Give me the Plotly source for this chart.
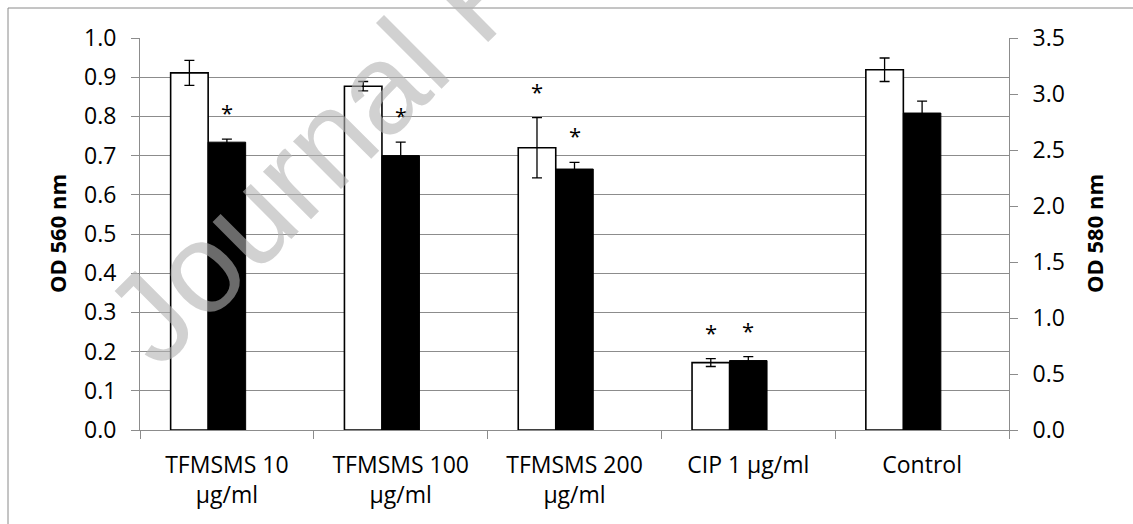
import plotly.graph_objects as go

# Biofilm assay: OD 560 nm (left axis, white bars) and OD 580 nm (right axis, black bars)
categories = ["TFMSMS 10<br>µg/ml", "TFMSMS 100<br>µg/ml", "TFMSMS 200<br>µg/ml",
              "CIP 1 µg/ml", "Control"]
od560 = [0.911, 0.877, 0.720, 0.172, 0.919]
od560_err = [0.032, 0.012, 0.077, 0.010, 0.030]
od580 = [2.57, 2.45, 2.33, 0.62, 2.83]
od580_err = [0.027, 0.12, 0.06, 0.035, 0.107]
sig560 = [False, False, True, True, False]
sig580 = [True, True, True, True, False]
y_ticks_left = [round(i * 0.1, 1) for i in range(11)]
y_ticks_right = [round(i * 0.5, 1) for i in range(8)]

W, H = 1133, 524
L, R, T, B = 140, 1009, 38, 430   # plot-area edges in pixels
GRID = "#8c8c8c"
TICK_FONT = dict(family="Open Sans", size=23, color="#000000")

BAR_W = 0.2158

def px_x(p):
    return (p - L) / (R - L)

def px_y(p):
    return (B - p) / (B - T)

fig = go.Figure()
fig.add_trace(go.Bar(
    x=categories, y=od560, name="OD 560 nm",
    width=BAR_W, offset=-1.5 * BAR_W,
    marker=dict(color="#ffffff", line=dict(color="#000000", width=1.6)),
    error_y=dict(type="data", array=od560_err, color="#000000", thickness=1.3, width=5),
    yaxis="y",
))
fig.add_trace(go.Bar(
    x=categories, y=od580, name="OD 580 nm",
    width=BAR_W, offset=-0.5 * BAR_W,
    marker=dict(color="#000000", line=dict(color="#000000", width=1)),
    error_y=dict(type="data", array=od580_err, color="#000000", thickness=1.3, width=5),
    yaxis="y2",
))

annotations = []
# significance marks above the error bars
for c, v, e, s in zip(categories, od560, od560_err, sig560):
    if s:
        annotations.append(dict(x=c, y=v + e, xref="x", yref="y", text="*",
                                showarrow=False, xshift=-37.5, yanchor="bottom",
                                yshift=10, font=dict(family="Open Sans", size=22, color="#000")))
for c, v, e, s in zip(categories, od580, od580_err, sig580):
    if s:
        annotations.append(dict(x=c, y=v + e, xref="x", yref="y2", text="*",
                                showarrow=False, xshift=0, yanchor="bottom",
                                yshift=10, font=dict(family="Open Sans", size=22, color="#000")))

# axis titles
annotations.append(dict(x=px_x(57), y=0.5, xref="paper", yref="paper", text="<b>OD 560 nm</b>",
                        textangle=-90, showarrow=False, xanchor="center", yanchor="middle",
                        font=dict(family="Open Sans", size=22, color="#000")))
annotations.append(dict(x=px_x(1094), y=0.5, xref="paper", yref="paper", text="<b>OD 580 nm</b>",
                        textangle=-90, showarrow=False, xanchor="center", yanchor="middle",
                        font=dict(family="Open Sans", size=22, color="#000")))

# watermark
annotations.append(dict(x=px_x(477), y=px_y(-9), xref="paper", yref="paper",
                        text="Journal Pre-proof", textangle=-45, showarrow=False,
                        xanchor="center", yanchor="middle",
                        font=dict(family="Liberation Sans", size=128,
                                  color="rgba(178,178,178,0.6)")))

fig.update_layout(
    width=W, height=H,
    margin=dict(l=L, r=W - R, t=T, b=H - B),
    paper_bgcolor="#ffffff", plot_bgcolor="#ffffff",
    showlegend=False,
    barmode="overlay",
    annotations=annotations,
    shapes=[dict(type="rect", xref="paper", yref="paper",
                 x0=px_x(8), x1=px_x(1200), y0=px_y(8), y1=px_y(600),
                 line=dict(color="#8a8a8a", width=1), fillcolor="rgba(0,0,0,0)")],
    xaxis=dict(
        type="category", showgrid=False, showline=True, linecolor=GRID, linewidth=1,
        ticks="outside", tickson="boundaries", ticklen=8, tickcolor=GRID,
        tickfont=TICK_FONT, zeroline=False, ticklabelstandoff=14,
    ),
    yaxis=dict(
        range=[0, 1.0], tickvals=y_ticks_left, ticktext=[f"{v:.1f}" for v in y_ticks_left],
        showgrid=True, gridcolor=GRID, gridwidth=1, showline=True, linecolor=GRID,
        ticks="outside", ticklen=8, tickcolor=GRID, tickfont=TICK_FONT,
        ticklabelstandoff=10, zeroline=False,
    ),
    yaxis2=dict(
        range=[0, 3.5], tickvals=y_ticks_right, ticktext=[f"{v:.1f}" for v in y_ticks_right],
        overlaying="y", side="right", showgrid=False, showline=True, linecolor=GRID,
        ticks="outside", ticklen=8, tickcolor=GRID, tickfont=TICK_FONT,
        ticklabelstandoff=10, zeroline=False,
    ),
)

fig.write_html("out.html")
